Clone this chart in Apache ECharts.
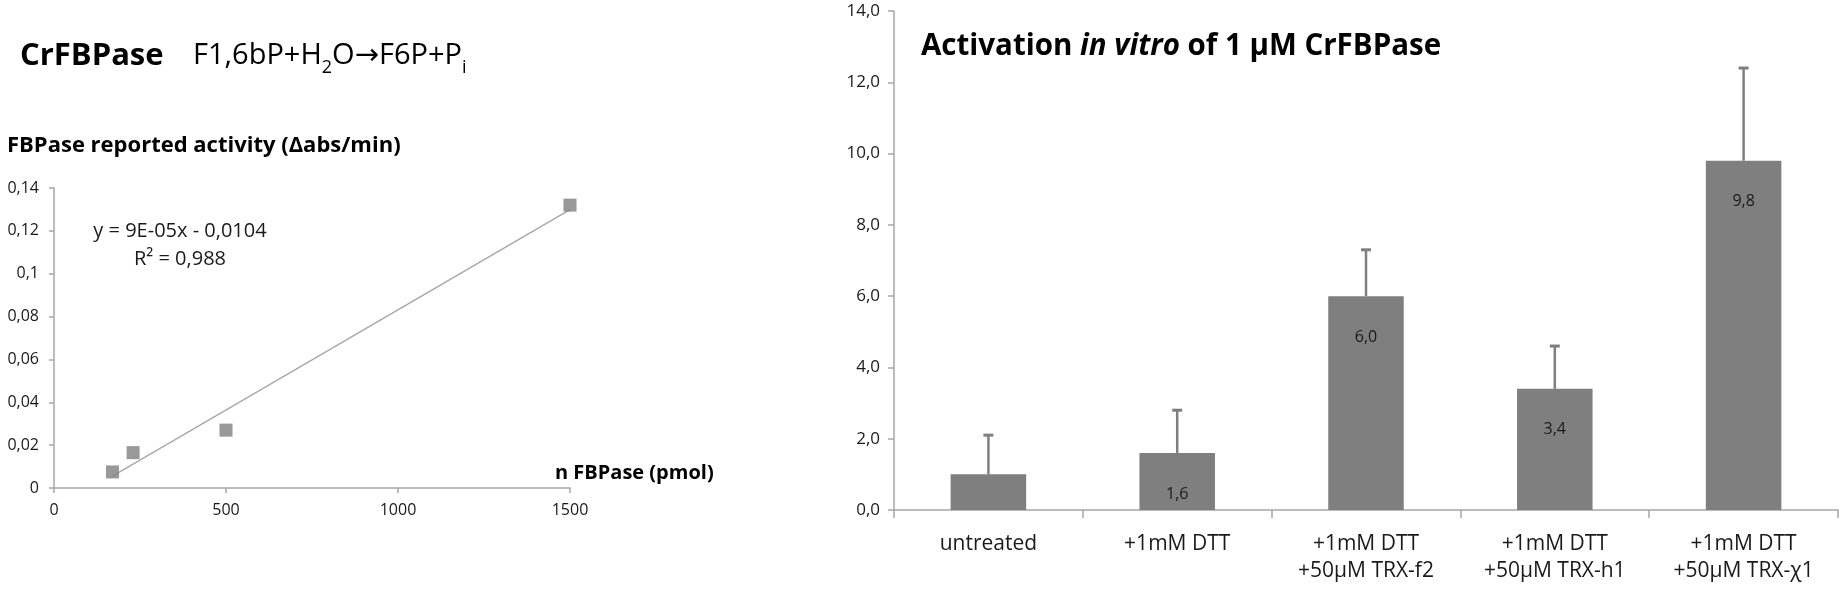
<!DOCTYPE html>
<html>
<head>
<meta charset="utf-8">
<script src="https://cdn.jsdelivr.net/npm/echarts@6/dist/echarts.min.js"></script>
<style>
html,body{margin:0;padding:0;background:#fff;}
#chart{width:1840px;height:592px;}
</style>
</head>
<body>
<div id="chart"></div>
<script>
// ---- Left panel: standard curve ----
const amountPmol = [170, 230, 500, 1500];
const activity = [0.0075, 0.0165, 0.027, 0.132];
const trendText = ['y = 9E-05x - 0,0104', 'R² = 0,988'];
const leftYTicks = [0, 0.14, 0.02];   // min, max, interval
const leftXTicks = [0, 1500, 500];

// ---- Right panel: activation bars ----
const conditions = ['untreated', '+1mM DTT', '+1mM DTT\n+50µM TRX-f2', '+1mM DTT\n+50µM TRX-h1', '+1mM DTT\n+50µM TRX-χ1'];
const activation = [1.0, 1.6, 6.0, 3.4, 9.8];
const errorUp = [1.1, 1.2, 1.3, 1.2, 2.6];
const labelShown = [false, true, true, true, true];
const rightYTicks = [0, 14, 2];

const FONT = '"Open Sans", "Noto Sans", sans-serif';
const GREY = '#7f7f7f';
const AXIS = '#a6a6a6';
const TXT = '#1a1a1a';

// least-squares trend line from data
const n = amountPmol.length;
const mx = amountPmol.reduce((a, b) => a + b, 0) / n;
const my = activity.reduce((a, b) => a + b, 0) / n;
let sxy = 0, sxx = 0;
for (let i = 0; i < n; i++) { sxy += (amountPmol[i] - mx) * (activity[i] - my); sxx += (amountPmol[i] - mx) ** 2; }
const slope = sxy / sxx, icpt = my - slope * mx;
const xMin = Math.min(...amountPmol), xMax = Math.max(...amountPmol);
const trendData = [[xMin, icpt + slope * xMin], [xMax, icpt + slope * xMax]];

const chart = echarts.init(document.getElementById('chart'), null, {renderer: 'canvas'});

const option = {
  backgroundColor: '#fff',
  animation: false,
  textStyle: {fontFamily: FONT},
  grid: [
    {left: 54, top: 188, width: 516, height: 300},
    {left: 894, top: 11, width: 944, height: 499}
  ],
  xAxis: [
    {
      gridIndex: 0, type: 'value', min: leftXTicks[0], max: leftXTicks[1], interval: leftXTicks[2],
      axisLine: {lineStyle: {color: AXIS, width: 1.5}},
      axisTick: {show: true, length: 5, lineStyle: {color: AXIS, width: 1.5}},
      splitLine: {show: false},
      axisLabel: {color: TXT, fontSize: 16, fontFamily: FONT, margin: 14, formatter: v => String(v)}
    },
    {
      gridIndex: 1, type: 'category', data: conditions,
      axisLine: {lineStyle: {color: AXIS, width: 1.5}},
      axisTick: {show: true, alignWithLabel: false, length: 8, lineStyle: {color: AXIS, width: 1.5}},
      axisLabel: {color: TXT, fontSize: 21, fontFamily: FONT, margin: 21, lineHeight: 27, interval: 0}
    }
  ],
  yAxis: [
    {
      gridIndex: 0, type: 'value', min: leftYTicks[0], max: leftYTicks[1], interval: leftYTicks[2],
      axisLine: {show: true, lineStyle: {color: AXIS, width: 1.5}},
      axisTick: {show: true, length: 5, lineStyle: {color: AXIS, width: 1.5}},
      splitLine: {show: false},
      axisLabel: {color: TXT, fontSize: 16, fontFamily: FONT, margin: 15,
        formatter: v => v === 0 ? '0' : String(+v.toFixed(2)).replace('.', ',')}
    },
    {
      gridIndex: 1, type: 'value', min: rightYTicks[0], max: rightYTicks[1], interval: rightYTicks[2],
      axisLine: {show: true, lineStyle: {color: AXIS, width: 1.5}},
      axisTick: {show: true, length: 6, lineStyle: {color: AXIS, width: 1.5}},
      splitLine: {show: false},
      axisLabel: {color: TXT, fontSize: 17, fontFamily: FONT, margin: 14,
        formatter: v => v.toFixed(1).replace('.', ',')}
    }
  ],
  series: [
    {
      type: 'line', xAxisIndex: 0, yAxisIndex: 0, data: trendData,
      symbol: 'none', lineStyle: {color: '#a6a6a6', width: 1.3}, z: 2
    },
    {
      type: 'scatter', xAxisIndex: 0, yAxisIndex: 0,
      data: amountPmol.map((x, i) => [x, activity[i]]),
      symbol: 'rect', symbolSize: 13, itemStyle: {color: GREY}, z: 3
    },
    {
      type: 'bar', xAxisIndex: 1, yAxisIndex: 1, data: activation, barWidth: '40%',
      itemStyle: {color: GREY},
      label: {
        show: true, position: 'insideTop', distance: 33, color: TXT, fontSize: 16, fontFamily: FONT,
        formatter: p => labelShown[p.dataIndex] ? p.value.toFixed(1).replace('.', ',') : ''
      },
      z: 2
    },
    {
      type: 'custom', xAxisIndex: 1, yAxisIndex: 1,
      data: activation.map((v, i) => [i, v, v + errorUp[i]]),
      renderItem: function (params, api) {
        const base = api.coord([api.value(0), api.value(1)]);
        const top = api.coord([api.value(0), api.value(2)]);
        const cw = 5;
        return {
          type: 'group',
          children: [
            {type: 'line', shape: {x1: base[0], y1: base[1], x2: top[0], y2: top[1]},
              style: {stroke: GREY, lineWidth: 2.5}},
            {type: 'line', shape: {x1: top[0] - cw, y1: top[1], x2: top[0] + cw, y2: top[1]},
              style: {stroke: GREY, lineWidth: 3}}
          ]
        };
      },
      z: 4
    }
  ],
  graphic: [
    {
      type: 'text', x: 20, y: 56,
      style: {text: 'CrFBPase', verticalAlign: 'middle', font: 'bold 31px ' + FONT, fill: '#000'}
    },
    {
      type: 'text', x: 193, y: 56,
      style: {
        text: '{n|F1,6bP+H}{sub|2}{n|O}{a|→}{n|F6P+P}{sub|i}',
        verticalAlign: 'middle', fill: '#000',
        rich: {
          n: {fontFamily: FONT, fontSize: 29, lineHeight: 42, fill: '#000'},
          a: {fontFamily: '"DejaVu Sans"', fontSize: 29, lineHeight: 42, fill: '#000'},
          sub: {fontFamily: FONT, fontSize: 18, lineHeight: 22, verticalAlign: 'bottom', fill: '#000'}
        }
      }
    },
    {
      type: 'text', x: 7, y: 146,
      style: {text: 'FBPase reported activity (Δabs/min)', verticalAlign: 'middle',
        font: 'bold 22px ' + FONT, fill: '#000'}
    },
    {
      type: 'text', x: 555, y: 473,
      style: {text: 'n FBPase (pmol)', verticalAlign: 'middle', font: 'bold 20px ' + FONT, fill: '#000'}
    },
    {
      type: 'text', x: 180, y: 231,
      style: {text: trendText[0], align: 'center', verticalAlign: 'middle', font: '20px ' + FONT, fill: TXT}
    },
    {
      type: 'text', x: 180, y: 259,
      style: {text: trendText[1], align: 'center', verticalAlign: 'middle', font: '20px ' + FONT, fill: TXT}
    },
    {
      type: 'text', x: 921, y: 47,
      style: {
        text: '{b|Activation }{bi|in vitro}{b| of 1 µM CrFBPase}',
        verticalAlign: 'middle',
        rich: {
          b: {fontFamily: FONT, fontWeight: 'bold', fontSize: 29.5, fill: '#000'},
          bi: {fontFamily: FONT, fontWeight: 'bold', fontStyle: 'italic', fontSize: 29.5, fill: '#000'}
        }
      }
    }
  ]
};
chart.setOption(option);
</script>
</body>
</html>
